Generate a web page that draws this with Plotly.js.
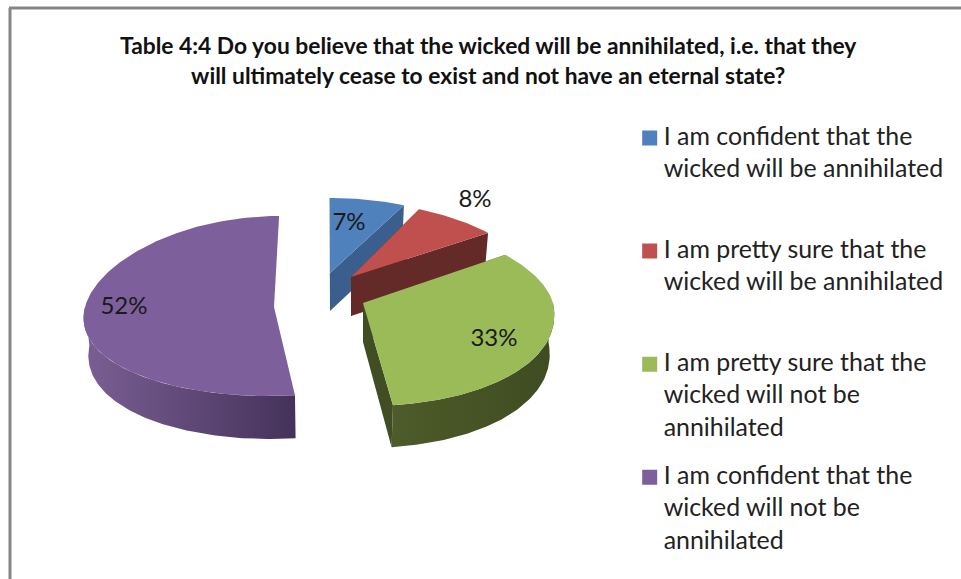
<!DOCTYPE html>
<html>
<head>
<meta charset="utf-8">
<script src="https://cdn.plot.ly/plotly-3.0.1.min.js"></script>
<style>html,body{margin:0;padding:0;background:#fff}#c{width:961px;height:579px}</style>
</head>
<body>
<div id="c"></div>
<script>
// ---- data ----
const categories = [
  "I am confident that the<br>wicked will be annihilated<br> ",
  "I am pretty sure that the<br>wicked will be annihilated<br> ",
  "I am pretty sure that the<br>wicked will not be<br>annihilated",
  "I am confident that the<br>wicked will not be<br>annihilated"
];
const percentages = [7, 8, 33, 52];
const chartTitle = "Table 4:4 Do you believe that the wicked will be annihilated, i.e. that they<br>will ultimately cease to exist and not have an eternal state?";

// ---- styles ----
const topColors  = ["#4f81bd", "#c0504d", "#9bbb59", "#7d5f9c"];
const faceColors = ["#3a5f8e", "#632a28", "#414d22", "#5d4775"];
const wallStops  = [
  ["#3a5f8e", "#3a5f8e"],
  ["#632a28", "#632a28"],
  ["#4d5c2a", "#3f4b21"],
  ["#7a5f94", "#45325a"]
];
// exploded-slice geometry of the 3-D look (slice apex, radii, depth)
const apexX = [330, 351, 363, 274];
const apexY = [273, 277, 303, 307];
const radiusX = [192, 182, 190, 189];
const backRY = [75, 75, 82, 91];
const frontRY = [75, 75, 103, 89];
const sideDepth = [38, 39, 39, 37];
const frontDepth = [38, 39, 42, 43];
const labelX = [349, 475, 494, 124];
const labelY = [224, 201, 340, 308];
const VX = 325, PERSP = 0.1, BASE_SCALE = 0.98;

const rad = d => d * Math.PI / 180;
function rim(i, deg, lower) {
  const c = Math.cos(rad(deg)), s = Math.sin(rad(deg));
  const x = VX + (apexX[i] + radiusX[i] * s - VX) * (1 - PERSP * c);
  const y = apexY[i] - (c > 0 ? backRY[i] : frontRY[i]) * c;
  if (!lower) return [x, y];
  return [VX + (x - VX) * BASE_SCALE, y + sideDepth[i] + (frontDepth[i] - sideDepth[i]) * Math.max(0, -c)];
}
function apex(i, lower) {
  return lower ? [apexX[i], apexY[i] + sideDepth[i]] : [apexX[i], apexY[i]];
}
function arc(i, a, b, lower) {
  const pts = [], n = Math.max(2, Math.ceil(Math.abs(b - a)));
  for (let k = 0; k <= n; k++) pts.push(rim(i, a + (b - a) * k / n, lower));
  return pts;
}
function poly(pts, color, grad) {
  const t = {
    type: "scatter", mode: "lines", x: pts.map(p => p[0]), y: pts.map(p => p[1]),
    fill: "toself", fillcolor: color, line: {width: 0, color: color},
    showlegend: false, hoverinfo: "skip"
  };
  if (grad) t.fillgradient = {type: "horizontal", colorscale: [[0, grad[0]], [1, grad[1]]]};
  return t;
}

const total = percentages.reduce((a, b) => a + b, 0);
let cum = 0;
const sliceTraces = [[], [], [], []];
percentages.forEach((v, i) => {
  const a = cum / total * 360, b = (cum + v) / total * 360;
  cum += v;
  const tr = sliceTraces[i];
  if (b < 180) {
    tr.push(poly([apex(i), rim(i, b), rim(i, b, true), apex(i, true)], faceColors[i]));
    tr.push(poly([apex(i), rim(i, a), rim(i, a, true), apex(i, true)], faceColors[i]));
  }
  const w0 = Math.max(a, 90), w1 = Math.min(b, 270);
  if (w1 > w0) {
    tr.push(poly(arc(i, w0, w1).concat(arc(i, w0, w1, true).reverse()), wallStops[i][0], wallStops[i]));
  }
  tr.push(poly([apex(i)].concat(arc(i, a, b)), topColors[i]));
});
const drawOrder = [3, 0, 1, 2];
const traces = [];
drawOrder.forEach(i => sliceTraces[i].forEach(t => traces.push(t)));

traces.push({
  type: "scatter", mode: "text", x: labelX, y: labelY,
  text: percentages.map(v => v + "%"), textposition: "middle center",
  textfont: {family: "Lato, sans-serif", size: 24, color: "#1a1a1a"},
  showlegend: false, hoverinfo: "skip"
});

categories.forEach((name, i) => traces.push({
  type: "scatter", mode: "markers", x: [null], y: [null], name: name, legendgroup: "g" + i,
  marker: {symbol: "square", size: 15, color: topColors[i]}, hoverinfo: "skip"
}));

const layout = {
  width: 961, height: 579, margin: {l: 0, r: 0, t: 0, b: 0, autoexpand: false},
  paper_bgcolor: "#fff", plot_bgcolor: "#fff", hovermode: false,
  title: {
    text: "<b>" + chartTitle.replace("<br>", "</b><br><b>") + "</b>",
    font: {family: "Lato, sans-serif", size: 22.8, color: "#111"},
    x: 0.508, xanchor: "center", y: 0.906, yanchor: "top", automargin: false
  },
  xaxis: {range: [0, 961], visible: false, fixedrange: true},
  yaxis: {range: [579, 0], visible: false, fixedrange: true},
  showlegend: true,
  legend: {
    x: 0.649, xanchor: "left", y: 0.806, yanchor: "top",
    traceorder: "grouped", tracegroupgap: 13, valign: "top",
    font: {family: "Lato, sans-serif", size: 24.9, color: "#222"},
    bgcolor: "rgba(0,0,0,0)", borderwidth: 0, itemclick: false, itemdoubleclick: false
  },
  shapes: [
    {type: "line", xref: "paper", yref: "paper", x0: 9 / 961, x1: 1, y0: 1 - 8 / 579, y1: 1 - 8 / 579, line: {color: "#868686", width: 3}},
    {type: "line", xref: "paper", yref: "paper", x0: 10 / 961, x1: 10 / 961, y0: 1 - 8 / 579, y1: 0, line: {color: "#868686", width: 3}}
  ]
};
Plotly.newPlot("c", traces, layout, {displayModeBar: false, responsive: false}).then(gd => {
  gd.querySelectorAll(".legendsymbols").forEach(g => g.setAttribute("transform", "translate(6,3)"));
});
</script>
</body>
</html>
